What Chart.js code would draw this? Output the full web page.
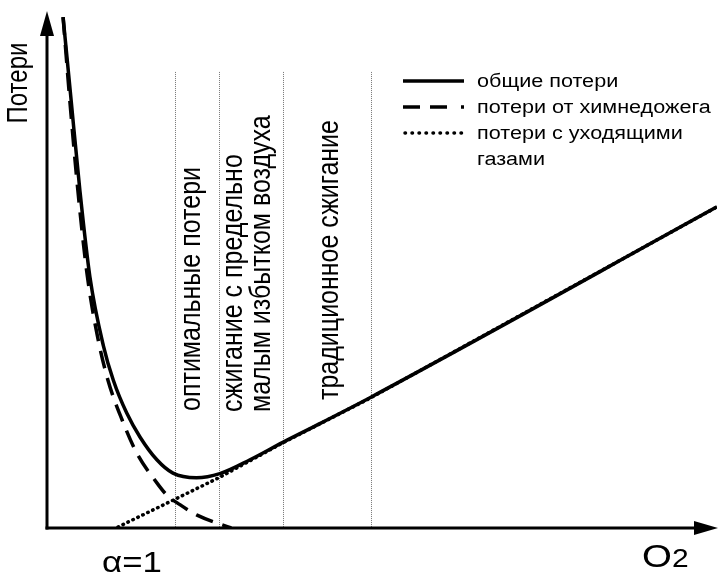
<!DOCTYPE html>
<html>
<head>
<meta charset="utf-8">
<script src="https://cdn.jsdelivr.net/npm/chart.js@4"></script>
<style>
  html, body { margin: 0; padding: 0; background: #fff; }
  canvas { display: block; }
</style>
</head>
<body>
<canvas id="chart" width="719" height="575"></canvas>
<script>
// curves, x = O2 (0..100), y = losses (0..100)
const totalX = [2.4, 3.6, 4.9, 6.4, 8.4, 9.9, 11.9, 13.9, 16.4, 18.8, 22.3, 25.8, 30.3, 35.2, 40.8, 48.2, 100];
const totalY = [99.6, 83.4, 65.9, 49.0, 35.6, 28.8, 22.4, 17.7, 13.3, 10.7, 9.8, 10.6, 13.3, 16.7, 20.4, 25.4, 62.6];

const chemX = [2.4, 3.4, 4.6, 6.0, 7.5, 9.1, 11.2, 13.4, 16.4, 17.9, 19.9, 22.4, 27.5];
const chemY = [99.6, 83.4, 65.9, 49.3, 37.6, 28.8, 21.1, 14.6, 8.8, 6.4, 4.5, 2.5, 0];

const flueX = [10.6, 19.1, 25.8, 35.2, 48.2, 100];
const flueY = [0.2, 5.6, 9.9, 16.6, 25.3, 62.6];

const zoneX = [19.1, 25.7, 35.2, 48.4];
const zoneTop = 88.9;
const zoneLabels = [
  ["оптимальные потери"],
  ["сжигание с предельно", "малым избытком воздуха"],
  ["традиционное сжигание"]
];

const legendLabels = ["общие потери", "потери от химнедожега", "потери с уходящими", "газами"];
const yTitle = "Потери";
const xTitle = "O";
const xTitleSub = "2";
const alphaLabel = "α=1";

const FONT = '"Liberation Sans", Arial, sans-serif';

function toPoints(xs, ys) {
  return xs.map((x, i) => ({ x: x, y: ys[i] }));
}

function drawText(ctx, str, x, y, size, rotate, align, baseline) {
  ctx.save();
  ctx.translate(x, y);
  ctx.scale(1.2, 1);
  if (rotate) ctx.rotate(-Math.PI / 2);
  ctx.font = size + "px " + FONT;
  ctx.fillStyle = "#000";
  ctx.textAlign = align;
  ctx.textBaseline = baseline;
  ctx.fillText(str, 0, 0);
  ctx.restore();
}

const zonesPlugin = {
  id: "zones",
  beforeDatasetsDraw(chart) {
    const ctx = chart.ctx;
    const xs = chart.scales.x;
    const ys = chart.scales.y;
    ctx.save();
    ctx.strokeStyle = "#777";
    ctx.lineWidth = 1;
    ctx.setLineDash([1, 1]);
    zoneX.forEach((v) => {
      const px = Math.round(xs.getPixelForValue(v)) + 0.5;
      ctx.beginPath();
      ctx.moveTo(px, ys.getPixelForValue(zoneTop));
      ctx.lineTo(px, ys.getPixelForValue(0));
      ctx.stroke();
    });
    ctx.restore();

    // rotated zone captions
    drawText(ctx, zoneLabels[0][0], 192, 411, 25, true, "left", "middle");
    drawText(ctx, zoneLabels[1][0], 234, 412, 25, true, "left", "middle");
    drawText(ctx, zoneLabels[1][1], 262, 412, 25, true, "left", "middle");
    drawText(ctx, zoneLabels[2][0], 330, 400, 25, true, "left", "middle");
  },
  afterDraw(chart) {
    const ctx = chart.ctx;
    const a = chart.chartArea;
    ctx.save();
    ctx.strokeStyle = "#000";
    ctx.fillStyle = "#000";
    ctx.lineWidth = 3;
    ctx.setLineDash([]);
    // y axis with arrow
    ctx.beginPath();
    ctx.moveTo(a.left, a.bottom + 1.5);
    ctx.lineTo(a.left, 30);
    ctx.stroke();
    ctx.beginPath();
    ctx.moveTo(a.left, 11);
    ctx.lineTo(a.left - 7, 36);
    ctx.lineTo(a.left + 7, 36);
    ctx.closePath();
    ctx.fill();
    // x axis with arrow
    ctx.beginPath();
    ctx.moveTo(a.left - 1.5, a.bottom);
    ctx.lineTo(700, a.bottom);
    ctx.stroke();
    ctx.beginPath();
    ctx.moveTo(718, a.bottom);
    ctx.lineTo(694, a.bottom - 7);
    ctx.lineTo(694, a.bottom + 7);
    ctx.closePath();
    ctx.fill();

    // legend
    const lx0 = 403, lx1 = 464;
    const rows = [81, 107, 133];
    ctx.lineWidth = 3.5;
    ctx.beginPath();
    ctx.moveTo(lx0, rows[0]);
    ctx.lineTo(lx1, rows[0]);
    ctx.stroke();
    ctx.setLineDash([17, 10, 17, 14, 3, 100]);
    ctx.beginPath();
    ctx.moveTo(lx0, rows[1]);
    ctx.lineTo(lx1 + 2, rows[1]);
    ctx.stroke();
    ctx.lineCap = "round";
    ctx.setLineDash([0.5, 6.5]);
    ctx.beginPath();
    ctx.moveTo(lx0 + 2, rows[2]);
    ctx.lineTo(lx1, rows[2]);
    ctx.stroke();
    ctx.restore();

    drawText(ctx, legendLabels[0], 477, 87, 18, false, "left", "alphabetic");
    drawText(ctx, legendLabels[1], 477, 113, 18, false, "left", "alphabetic");
    drawText(ctx, legendLabels[2], 477, 139, 18, false, "left", "alphabetic");
    drawText(ctx, legendLabels[3], 477, 165, 18, false, "left", "alphabetic");

    // axis titles
    drawText(ctx, yTitle, 19, 83, 24, true, "center", "middle");
    drawText(ctx, alphaLabel, 132, 572, 29, false, "center", "alphabetic");
    drawText(ctx, xTitle, 642, 567, 32, false, "left", "alphabetic");
    drawText(ctx, xTitleSub, 672, 567, 25, false, "left", "alphabetic");
  }
};

new Chart(document.getElementById("chart"), {
  type: "line",
  data: {
    datasets: [
      {
        label: legendLabels[0],
        data: toPoints(totalX, totalY),
        borderColor: "#000",
        borderWidth: 3.5,
        pointRadius: 0,
        cubicInterpolationMode: "monotone",
        fill: false
      },
      {
        label: legendLabels[1],
        data: toPoints(chemX, chemY),
        borderColor: "#000",
        borderWidth: 3.5,
        borderDash: [18, 10],
        pointRadius: 0,
        cubicInterpolationMode: "monotone",
        fill: false
      },
      {
        label: legendLabels[2] + " " + legendLabels[3],
        data: toPoints(flueX, flueY),
        borderColor: "#000",
        borderWidth: 3.5,
        borderDash: [0.5, 5],
        borderCapStyle: "round",
        pointRadius: 0,
        tension: 0,
        fill: false
      }
    ]
  },
  options: {
    responsive: false,
    animation: false,
    layout: { padding: { left: 47, right: 2, top: 15, bottom: 47 } },
    scales: {
      x: { type: "linear", min: 0, max: 100, display: false },
      y: { type: "linear", min: 0, max: 100, display: false }
    },
    plugins: {
      legend: { display: false },
      tooltip: { enabled: false }
    }
  },
  plugins: [zonesPlugin]
});
</script>
</body>
</html>
